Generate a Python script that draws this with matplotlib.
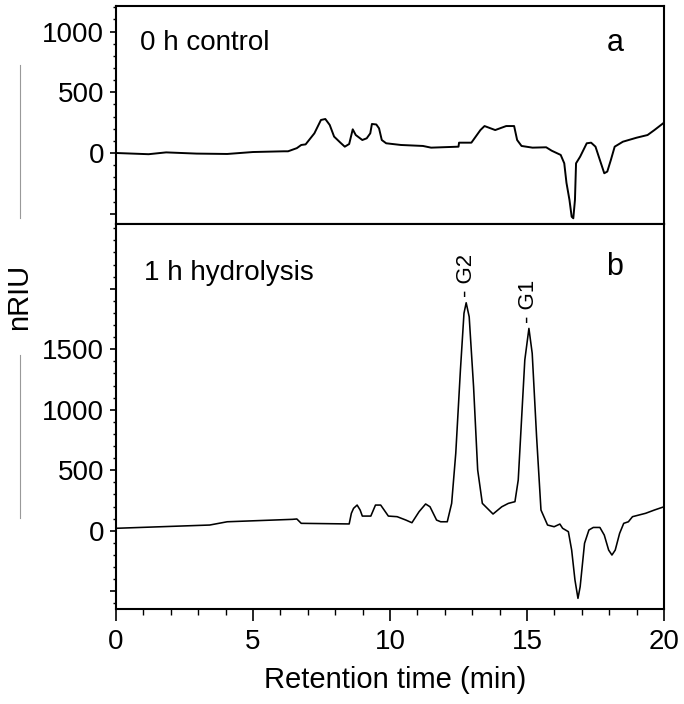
import matplotlib
matplotlib.use("Agg")
import matplotlib.pyplot as plt
from matplotlib.ticker import MultipleLocator
from matplotlib.lines import Line2D

plt.rcParams['font.family'] = ['Liberation Sans', 'DejaVu Sans']

# ---- data ----
t_a = [0.0, 1.19, 1.83, 2.94, 4.06, 5.0, 6.13, 6.28, 6.6, 6.76, 6.92, 7.24, 7.48, 7.64, 7.80,
       7.96, 8.19, 8.35, 8.51, 8.64, 8.75, 8.99, 9.15, 9.28, 9.34, 9.5, 9.6, 9.7, 9.86,
       10.4, 11.2, 11.5, 12.5, 12.52, 12.97, 13.3, 13.45, 13.84, 14.24, 14.53, 14.64, 14.8,
       15.2, 15.7, 15.9, 16.23, 16.36, 16.44, 16.55, 16.63, 16.69, 16.75, 16.79, 16.94,
       17.18, 17.34, 17.5, 17.66, 17.82, 17.93, 18.06, 18.2, 18.5, 19.0, 19.4, 19.65, 20.0]
v_a = [0, -10, 5, -5, -8, 8, 14, 14, 40, 66, 71, 162, 272, 280, 231,
       135, 85, 52, 74, 195, 148, 107, 121, 162, 239, 235, 203, 107, 80,
       66, 58, 44, 52, 85, 85, 189, 222, 189, 222, 222, 107, 58,
       44, 47, 19, -16, -85, -245, -387, -525, -538, -387, -85, -30,
       80, 85, 52, -58, -167, -153, -58, 52, 93, 126, 148, 189, 250]

t_b = [0.0, 3.42, 4.06, 6.44, 6.6, 6.76, 8.51, 8.59, 8.67, 8.8, 8.91, 8.99, 9.3, 9.47, 9.66,
       9.94, 10.26, 10.58, 10.8, 11.06, 11.3, 11.46, 11.7, 11.85, 12.09, 12.25, 12.4, 12.57,
       12.7, 12.78, 12.89, 13.05, 13.2, 13.37, 13.76, 14.08, 14.32, 14.56, 14.68, 14.8, 14.92,
       15.07, 15.19, 15.35, 15.51, 15.75, 15.99, 16.2, 16.3, 16.51, 16.63, 16.75, 16.86, 16.94,
       17.1, 17.26, 17.42, 17.66, 17.82, 17.98, 18.1, 18.22, 18.38, 18.53, 18.7, 18.85, 19.33,
       19.65, 20.0]
v_b = [20, 47, 74, 94, 97, 61, 56, 144, 185, 212, 171, 121, 121, 212, 212,
       121, 116, 88, 66, 157, 221, 198, 88, 74, 74, 226, 640, 1328,
       1797, 1884, 1768, 1190, 502, 226, 138, 198, 226, 240, 419, 915, 1411,
       1672, 1466, 777, 171, 47, 33, 55, 20, -8, -160, -407, -559, -463,
       -104, 6, 27, 27, -36, -160, -201, -160, -22, 61, 74, 116, 144,
       171, 198]

peak_labels = ["G2", "G1"]
peak_t = [12.78, 15.07]
peak_v = [1884, 1672]

xticks = [0, 5, 10, 15, 20]
yticks_a = [-500, 0, 500, 1000]
ylabels_a = ["", "0", "500", "1000"]
yticks_b = [-500, 0, 500, 1000, 1500, 2000]
ylabels_b = ["", "0", "500", "1000", "1500", ""]

# ---- figure ----
W, H = 684, 704
fig = plt.figure(figsize=(W / 100, H / 100), dpi=100)
L, R = 116 / W, 664 / W
ax1 = fig.add_axes([L, 1 - 224 / H, R - L, (224 - 6) / H])
ax2 = fig.add_axes([L, 1 - 609 / H, R - L, (609 - 224) / H])

ax1.plot(t_a, v_a, color="black", lw=1.4, solid_joinstyle="round")
ax2.plot(t_b, v_b, color="black", lw=1.15, solid_joinstyle="round")

ax1.set_ylim(-585, 1211)
ax2.set_ylim(-647, 2535)

for ax in (ax1, ax2):
    ax.set_xlim(0, 20)
    for s in ax.spines.values():
        s.set_linewidth(1.5)
    ax.xaxis.set_minor_locator(MultipleLocator(1))
    ax.yaxis.set_minor_locator(MultipleLocator(100))
    ax.set_xticks(xticks)
    ax.tick_params(axis="y", which="major", direction="out", length=4.5, width=1.2,
                   labelsize=20, pad=4)
    ax.tick_params(axis="y", which="minor", direction="out", length=2, width=1.0)
    ax.tick_params(axis="x", which="major", direction="out", length=8.5, width=1.2,
                   labelsize=20, pad=6)
    ax.tick_params(axis="x", which="minor", direction="out", length=4.5, width=1.0)

ax1.set_yticks(yticks_a)
ax1.set_yticklabels(ylabels_a)
ax2.set_yticks(yticks_b)
ax2.set_yticklabels(ylabels_b)
ax1.tick_params(axis="x", labelbottom=False)

# panel texts
fig.text(140 / W, 1 - 43 / H, "0 h control", fontsize=20, ha="left", va="center")
fig.text(615 / W, 1 - 43 / H, "a", fontsize=22, ha="center", va="center")
fig.text(144 / W, 1 - 273 / H, "1 h hydrolysis", fontsize=20, ha="left", va="center")
fig.text(615 / W, 1 - 267 / H, "b", fontsize=22, ha="center", va="center")

for lab, pt, pv in zip(peak_labels, peak_t, peak_v):
    ax2.text(pt, pv + 45, "- " + lab, rotation=90, ha="center", va="bottom", fontsize=16)

fig.text(395 / W, 1 - 680 / H, "Retention time (min)", fontsize=21, ha="center", va="center")
fig.text(19 / W, 1 - 297 / H, "nRIU", fontsize=21, rotation=90, ha="center", va="center")

# thin grey vertical strokes at the left edge
for y0, y1 in [(65, 218), (355, 518)]:
    fig.add_artist(Line2D([20 / W, 20 / W], [1 - y0 / H, 1 - y1 / H], color="#999999", lw=0.8))

fig.savefig("out.png", dpi=100)
